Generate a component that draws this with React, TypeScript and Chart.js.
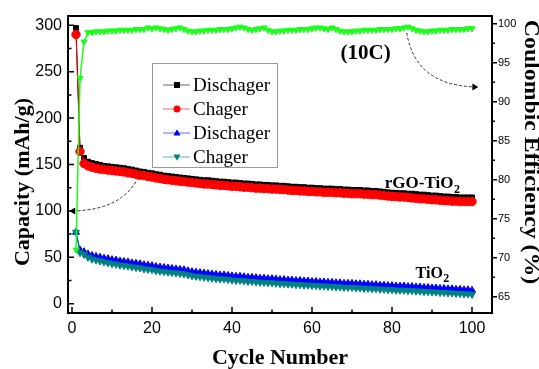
import React, { useEffect, useRef } from 'react';
import { Chart, registerables } from 'chart.js';
Chart.register(...registerables);

const cycles = Array.from({ length: 100 }, (_, i) => i + 1);

const rgoDischarge = [
  297, 168, 157, 153, 151.5, 150.5, 149.5, 148.5, 148, 147.5,
  147, 146.5, 146, 145, 144.5, 143.5, 142.5, 142, 141, 140.5,
  139.5, 139, 138, 137.5, 137, 136.5, 136, 135.5, 135, 134.5,
  134, 133.5, 133, 133, 132.5, 132, 131.5, 131.5, 131, 130.5,
  130.5, 130, 129.5, 129.5, 129, 128.5, 128.5, 128, 128, 127.5,
  127.5, 127, 127, 126.5, 126, 126, 125.5, 125.5, 125, 125,
  124.5, 124.5, 124, 124, 124, 123.5, 123.5, 123, 123, 122.5,
  122.5, 122.5, 122, 122, 121.5, 121.5, 121, 120.5, 120, 119.5,
  119.5, 119, 119, 118.5, 118.5, 118, 117.5, 117.5, 117, 116.5,
  116.5, 116, 115.5, 115.5, 115, 115, 114.5, 114.5, 114.5, 114.5,
];

const rgoCharge = [
  290, 164, 151, 148.5, 147, 146, 145, 144.5, 144, 143.5,
  143, 142.5, 142, 141, 140.5, 139.5, 138.5, 138, 137, 136.5,
  135.5, 135, 134, 133.5, 133, 132.5, 132, 131.5, 131, 130.5,
  130, 129.5, 129, 129, 128.5, 128, 127.5, 127.5, 127, 126.5,
  126.5, 126, 125.5, 125.5, 125, 124.5, 124.5, 124, 124, 123.5,
  123.5, 123, 123, 122.5, 122, 122, 121.5, 121.5, 121, 121,
  120.5, 120.5, 120, 120, 120, 119.5, 119.5, 119, 119, 118.5,
  118.5, 118.5, 118, 118, 117.5, 117.5, 117, 116.5, 116, 115.5,
  115.5, 115, 115, 114.5, 114, 113.5, 113, 113, 112.5, 112,
  112, 111.5, 111, 111, 110.5, 110.5, 110, 110, 110, 110,
];

const tioDischarge = [
  77, 58, 56, 53.5, 52, 51, 50, 49, 48.5, 47.5,
  47, 46, 45.5, 45, 44, 43.5, 43, 42, 41.5, 41,
  40, 39.5, 39, 38.5, 38, 37.5, 37, 36.5, 35.5, 34.5,
  34, 33.5, 33, 32.5, 32, 31.5, 31, 31, 30.5, 30,
  29.5, 29.5, 29, 28.5, 28.5, 28, 27.5, 27.5, 27, 27,
  26.5, 26, 26, 25.5, 25.5, 25, 25, 24.5, 24.5, 24,
  24, 23.5, 23.5, 23, 23, 22.5, 22.5, 22, 22, 22,
  21.5, 21.5, 21, 21, 20.5, 20.5, 20, 20, 19.5, 19.5,
  19, 19, 19, 18.5, 18.5, 18, 18, 17.5, 17.5, 17,
  17, 16.5, 16.5, 16, 16, 15.5, 15.5, 15, 15, 14.5,
];

const tioCharge = [
  77, 55, 53, 50, 48, 47, 46, 45, 44, 43,
  42.5, 41.5, 41, 40.5, 39.5, 39, 38.5, 37.5, 37, 36.5,
  35.5, 35, 34.5, 34, 33.5, 33, 32.5, 32, 31, 30,
  29.5, 29, 28.5, 28, 27.5, 27, 26.5, 26.5, 26, 25.5,
  25, 25, 24.5, 24, 24, 23.5, 23, 23, 22.5, 22.5,
  22, 21.5, 21.5, 21, 21, 20.5, 20.5, 20, 20, 19.5,
  19.5, 19, 19, 18.5, 18.5, 18, 18, 17.5, 17.5, 17.5,
  17, 17, 16.5, 16.5, 16, 16, 15.5, 15.5, 15, 15,
  14.5, 14.5, 14.5, 14, 14, 13.5, 13.5, 13, 13, 12.5,
  12.5, 12, 12, 11.5, 11.5, 11, 11, 10.5, 10.5, 10,
];

const coulombicEff = [
  71, 93, 97.7, 98.9, 98.9, 99.0, 99.0, 99.0, 99.1, 99.1,
  99.1, 99.2, 99.2, 99.2, 99.2, 99.3, 99.3, 99.3, 99.5, 99.4,
  99.5, 99.4, 99.3, 99.2, 99.3, 99.4, 99.5, 99.3, 99.1, 99.0,
  99.0, 99.1, 99.1, 99.2, 99.2, 99.2, 99.3, 99.3, 99.3, 99.4,
  99.5, 99.6, 99.5, 99.3, 99.2, 99.3, 99.4, 99.5, 99.2, 99.0,
  99.0, 99.1, 99.1, 99.2, 99.2, 99.2, 99.3, 99.3, 99.3, 99.4,
  99.5, 99.5, 99.4, 99.3, 99.5, 99.3, 99.1, 99.0, 99.0, 99.0,
  99.1, 99.1, 99.2, 99.2, 99.2, 99.2, 99.3, 99.3, 99.3, 99.3,
  99.4, 99.4, 99.5, 99.6, 99.4, 99.2, 99.1, 99.0, 99.0, 99.1,
  99.1, 99.2, 99.2, 99.2, 99.3, 99.3, 99.3, 99.3, 99.4, 99.4,
];

const xTicks = [0, 20, 40, 60, 80, 100];
const yTicks = [0, 50, 100, 150, 200, 250, 300];
const y1Ticks = [65, 70, 75, 80, 85, 90, 95, 100];
const legendLabels = ['Dischager', 'Chager', 'Dischager', 'Chager'];

const SERIF = '"Liberation Serif", "Times New Roman", serif';
const SANS = '"Liberation Sans", Arial, sans-serif';

const COLORS = ['#000000', '#ff0000', '#0000ff', '#008080', '#1aff1a'];
const STYLES = ['rect', 'circle', 'triangle', 'triangleDown'];

function drawMarker(ctx: CanvasRenderingContext2D, style: string, x: number, y: number, r: number, color: string) {
  ctx.save();
  ctx.fillStyle = color;
  ctx.beginPath();
  if (style === 'rect') {
    ctx.rect(x - r, y - r, 2 * r, 2 * r);
  } else if (style === 'circle') {
    ctx.arc(x, y, r, 0, Math.PI * 2);
  } else if (style === 'triangle') {
    ctx.moveTo(x, y - r * 1.1);
    ctx.lineTo(x + r, y + r * 0.7);
    ctx.lineTo(x - r, y + r * 0.7);
    ctx.closePath();
  } else {
    ctx.moveTo(x, y + r * 1.1);
    ctx.lineTo(x + r, y - r * 0.7);
    ctx.lineTo(x - r, y - r * 0.7);
    ctx.closePath();
  }
  ctx.fill();
  ctx.restore();
}

function dashedArrow(ctx: CanvasRenderingContext2D, p0: number[], c: number[], p1: number[], dir: number) {
  ctx.save();
  ctx.strokeStyle = '#333';
  ctx.lineWidth = 1;
  ctx.setLineDash([3, 2]);
  ctx.beginPath();
  ctx.moveTo(p0[0], p0[1]);
  ctx.quadraticCurveTo(c[0], c[1], p1[0], p1[1]);
  ctx.stroke();
  ctx.setLineDash([]);
  ctx.fillStyle = '#000';
  ctx.beginPath();
  const tip = p1[0] + dir * 4;
  ctx.moveTo(tip, p1[1]);
  ctx.lineTo(p1[0] - dir * 2, p1[1] - 3.5);
  ctx.lineTo(p1[0] - dir * 2, p1[1] + 3.5);
  ctx.closePath();
  ctx.fill();
  ctx.restore();
}

const decorPlugin = {
  id: 'decor',
  afterDraw(chart: any) {
    const ctx: CanvasRenderingContext2D = chart.ctx;
    const ca = chart.chartArea;
    const xs = chart.scales.x;
    const ys = chart.scales.y;
    const y1s = chart.scales.y1;
    ctx.save();
    // frame
    ctx.strokeStyle = '#000';
    ctx.lineWidth = 2;
    ctx.strokeRect(ca.left, ca.top, ca.right - ca.left, ca.bottom - ca.top);
    ctx.lineWidth = 1.5;
    ctx.beginPath();
    for (let v = 0; v <= 300; v += 25) {
      const y = ys.getPixelForValue(v);
      const len = v % 50 === 0 ? 6 : 3.5;
      ctx.moveTo(ca.left, y);
      ctx.lineTo(ca.left + len, y);
    }
    for (let v = 0; v <= 100; v += 10) {
      const x = xs.getPixelForValue(v);
      const len = v % 20 === 0 ? 6 : 3.5;
      ctx.moveTo(x, ca.bottom);
      ctx.lineTo(x, ca.bottom - len);
    }
    for (let v = 65; v <= 100; v += 2.5) {
      const y = y1s.getPixelForValue(v);
      const len = v % 5 === 0 ? 5 : 3;
      ctx.moveTo(ca.right, y);
      ctx.lineTo(ca.right + len, y);
    }
    ctx.stroke();

    // dashed arrows (anchored in data units)
    dashedArrow(
      ctx,
      [xs.getPixelForValue(17.1), ys.getPixelForValue(141)],
      [xs.getPixelForValue(13.3), ys.getPixelForValue(101)],
      [xs.getPixelForValue(0.3), ys.getPixelForValue(100)],
      -1
    );
    dashedArrow(
      ctx,
      [xs.getPixelForValue(83.7), y1s.getPixelForValue(98.85)],
      [xs.getPixelForValue(85.7), y1s.getPixelForValue(92.2)],
      [xs.getPixelForValue(100.6), y1s.getPixelForValue(91.9)],
      1
    );

    // legend
    const lx = 152, ly = 63, lw = 125, lh = 104;
    ctx.strokeStyle = '#9a9a9a';
    ctx.lineWidth = 1;
    ctx.strokeRect(lx + 0.5, ly + 0.5, lw, lh);
    ctx.font = `19px ${SERIF}`;
    ctx.textBaseline = 'middle';
    ctx.textAlign = 'left';
    legendLabels.forEach((label, i) => {
      const ry = 85 + i * 24;
      ctx.strokeStyle = COLORS[i];
      ctx.globalAlpha = 0.6;
      ctx.beginPath();
      ctx.moveTo(163, ry);
      ctx.lineTo(190, ry);
      ctx.stroke();
      ctx.globalAlpha = 1;
      drawMarker(ctx, STYLES[i], 177, ry, i === 0 ? 3 : 3.5, COLORS[i]);
      ctx.fillStyle = '#000';
      ctx.fillText(label, 193, ry + 1);
    });

    // annotations
    ctx.fillStyle = '#000';
    ctx.font = `bold 21px ${SERIF}`;
    ctx.textAlign = 'center';
    ctx.textBaseline = 'middle';
    ctx.fillText('(10C)', xs.getPixelForValue(73.4), ys.getPixelForValue(270));

    const sub = (txt: string, x: number, y: number, size: number) => {
      ctx.font = `bold ${size}px ${SERIF}`;
      ctx.textAlign = 'left';
      ctx.textBaseline = 'alphabetic';
      ctx.fillText(txt, x, y);
      const w = ctx.measureText(txt).width;
      ctx.font = `bold ${Math.round(size * 0.72)}px ${SERIF}`;
      ctx.fillText('2', x + w + 0.5, y + size * 0.28);
    };
    sub('rGO-TiO', xs.getPixelForValue(78.2), ys.getPixelForValue(124.7), 17);
    sub('TiO', xs.getPixelForValue(85.9), ys.getPixelForValue(28), 16);

    // axis titles
    ctx.font = `bold 22px ${SERIF}`;
    ctx.textAlign = 'center';
    ctx.textBaseline = 'middle';
    ctx.fillText('Cycle Number', (ca.left + ca.right) / 2, 358);

    ctx.save();
    ctx.translate(23, 182);
    ctx.rotate(-Math.PI / 2);
    ctx.fillText('Capacity (mAh/g)', 0, 0);
    ctx.restore();

    ctx.save();
    ctx.translate(530, 152);
    ctx.rotate(Math.PI / 2);
    ctx.scale(1.19, 1);
    ctx.font = `bold 20px ${SERIF}`;
    ctx.fillText('Coulombic Efficiency (%)', 0, 0);
    ctx.restore();

    ctx.restore();
  },
};

export default function App() {
  const ref = useRef<HTMLCanvasElement | null>(null);
  useEffect(() => {
    if (!ref.current) return;
    const mk = (data: number[]) => data.map((v, i) => ({ x: cycles[i], y: v }));
    const base = (i: number) => ({
      borderColor: COLORS[i],
      backgroundColor: COLORS[i],
      pointBorderColor: COLORS[i],
      pointBackgroundColor: COLORS[i],
      borderWidth: 1,
      pointBorderWidth: 1,
    });
    const chart = new Chart(ref.current, {
      type: 'line',
      data: {
        datasets: [
          { ...base(0), label: legendLabels[0], data: mk(rgoDischarge), pointStyle: 'rect', pointRadius: 3.5, yAxisID: 'y', order: 4 },
          { ...base(1), label: legendLabels[1], data: mk(rgoCharge), pointStyle: 'circle', pointRadius: 4.2, yAxisID: 'y', order: 3 },
          { ...base(2), label: legendLabels[2], data: mk(tioDischarge), pointStyle: 'triangle', pointRadius: 4, yAxisID: 'y', order: 2 },
          { ...base(3), label: legendLabels[3], data: mk(tioCharge), pointStyle: 'triangle', rotation: 180, pointRadius: 4, yAxisID: 'y', order: 1 },
          { ...base(4), label: 'Coulombic Efficiency', data: mk(coulombicEff), pointStyle: 'triangle', rotation: 180, pointRadius: 3.5, borderWidth: 1.5, yAxisID: 'y1', order: 0 },
        ] as any,
      },
      options: {
        animation: false,
        responsive: false,
        devicePixelRatio: 1,
        layout: { padding: { top: 16, left: 0, right: 0, bottom: 0 } },
        plugins: { legend: { display: false }, tooltip: { enabled: false }, title: { display: false } },
        elements: { line: { tension: 0 } },
        scales: {
          x: {
            type: 'linear',
            min: -1,
            max: 105,
            afterBuildTicks: (s: any) => { s.ticks = xTicks.map((v) => ({ value: v })); },
            afterFit: (s: any) => { s.height = 56; },
            grid: { display: false, drawTicks: false },
            border: { display: false },
            ticks: { font: { family: SANS, size: 16 }, color: '#000', padding: 6, maxRotation: 0, autoSkip: false },
          },
          y: {
            type: 'linear',
            position: 'left',
            min: -10,
            max: 310,
            afterBuildTicks: (s: any) => { s.ticks = yTicks.map((v) => ({ value: v })); },
            afterFit: (s: any) => { s.width = 68; },
            grid: { display: false, drawTicks: false },
            border: { display: false },
            ticks: { font: { family: SANS, size: 16 }, color: '#000', padding: 6, autoSkip: false },
          },
          y1: {
            type: 'linear',
            position: 'right',
            min: 62.9,
            max: 101,
            afterBuildTicks: (s: any) => { s.ticks = y1Ticks.map((v) => ({ value: v })); },
            afterFit: (s: any) => { s.width = 47; },
            grid: { display: false, drawTicks: false },
            border: { display: false },
            ticks: { font: { family: SANS, size: 11 }, color: '#000', padding: 6, autoSkip: false },
          },
        },
      } as any,
      plugins: [decorPlugin],
    });
    return () => chart.destroy();
  }, []);
  return (
    <div style={{ position: 'absolute', left: 0, top: 0, width: 539, height: 369, background: '#fff' }}>
      <canvas ref={ref} width={539} height={369} style={{ display: 'block', width: 539, height: 369 }} />
    </div>
  );
}
